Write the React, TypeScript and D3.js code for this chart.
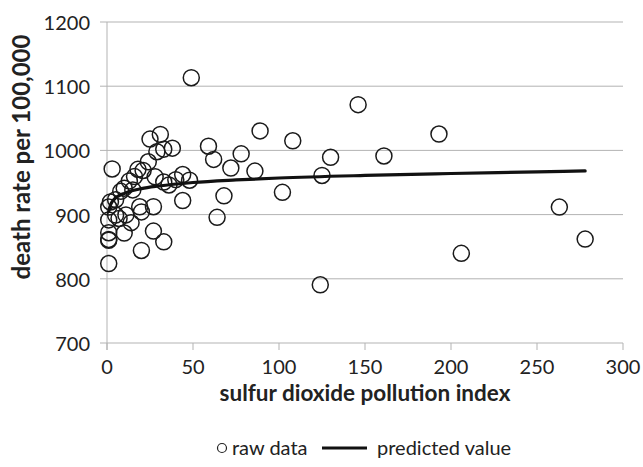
import React from "react";
import * as d3 from "d3";

const rawX: number[] = [
  49, 146, 89, 108, 86, 102, 130, 125, 161, 193, 206, 124, 263, 278, 59, 62, 78, 72, 68, 64,
  31, 25, 38, 33, 29, 24, 3, 18, 21, 44, 16, 28, 40, 48, 13, 33, 36, 10, 8, 15,
  5, 44, 2, 27, 19, 1, 20, 11, 5, 7, 1, 14, 27, 1, 10, 1, 1, 33, 20, 1,
];
const rawY: number[] = [
  1113.2, 1071.3, 1030.4, 1015.0, 967.8, 934.7, 989.3, 961.0, 991.3, 1025.5, 839.7, 790.7, 911.7, 861.8, 1006.5, 986.0, 994.6, 972.5, 929.2, 895.7,
  1024.9, 1017.6, 1003.5, 1001.9, 997.9, 982.3, 971.1, 970.5, 968.7, 962.4, 959.2, 958.8, 954.4, 953.6, 952.5, 950.7, 946.2, 941.2, 936.2, 938.5,
  923.2, 921.9, 919.7, 912.3, 912.2, 911.8, 904.2, 899.5, 899.3, 894.0, 891.7, 887.5, 874.3, 871.8, 871.3, 861.4, 860.1, 857.6, 844.1, 823.8,
];
const predX: number[] = [1, 2, 3, 5, 8, 10, 15, 20, 30, 50, 75, 100, 150, 200, 250, 278];
const predY: number[] = [905, 915, 920, 926, 931, 933, 937.5, 940.5, 944.5, 950, 954, 957, 961, 964, 966.5, 968];
const xTicks: number[] = [0, 50, 100, 150, 200, 250, 300];
const yTicks: number[] = [700, 800, 900, 1000, 1100, 1200];

const FONT = "Lato, 'Open Sans', sans-serif";

export default function App() {
  const x = d3.scaleLinear().domain([0, 300]).range([107, 623]);
  const y = d3.scaleLinear().domain([700, 1200]).range([343, 22]);
  const line = d3
    .line<number>()
    .x((_, i) => x(predX[i]))
    .y((d) => y(d))
    .curve(d3.curveMonotoneX);
  const grid = "#b3b3b3";
  return (
    <svg
      width={643}
      height={467}
      style={{ position: "absolute", left: 0, top: 0, background: "#fff" }}
      fontFamily={FONT}
    >
      {yTicks.map((t) => (
        <g key={"y" + t}>
          <line x1={100} x2={623} y1={y(t)} y2={y(t)} stroke={grid} strokeWidth={1} />
          <text x={90} y={y(t)} textAnchor="end" dominantBaseline="central" fontSize={20} fill="#222">
            {t}
          </text>
        </g>
      ))}
      <line x1={107} x2={107} y1={y(1200)} y2={y(700) + 7} stroke={grid} strokeWidth={1} />
      {xTicks.map((t) => (
        <g key={"x" + t}>
          <line x1={x(t)} x2={x(t)} y1={y(700)} y2={y(700) + 7} stroke={grid} strokeWidth={1} />
          <text x={x(t)} y={y(700) + 31} textAnchor="middle" fontSize={20} fill="#222">
            {t}
          </text>
        </g>
      ))}
      {rawX.map((vx, i) => (
        <circle key={"p" + i} cx={x(vx)} cy={y(rawY[i])} r={8} fill="none" stroke="#1a1a1a" strokeWidth={1.5} />
      ))}
      <path d={line(predY) || ""} fill="none" stroke="#111" strokeWidth={3.2} strokeLinecap="round" />
      <text x={365} y={401} textAnchor="middle" fontSize={22.5} fontWeight="bold" fill="#222">
        sulfur dioxide pollution index
      </text>
      <text
        transform="translate(30,157) rotate(-90)"
        textAnchor="middle"
        fontSize={24}
        fontWeight="bold"
        fill="#222"
      >
        death rate per 100,000
      </text>
      <g>
        <circle cx={222} cy={448} r={4.5} fill="none" stroke="#222" strokeWidth={1.2} />
        <text x={232} y={455} fontSize={20} fill="#222">raw data</text>
        <line x1={322} x2={367} y1={448} y2={448} stroke="#111" strokeWidth={3} />
        <text x={377} y={455} fontSize={20} fill="#222">predicted value</text>
      </g>
    </svg>
  );
}
